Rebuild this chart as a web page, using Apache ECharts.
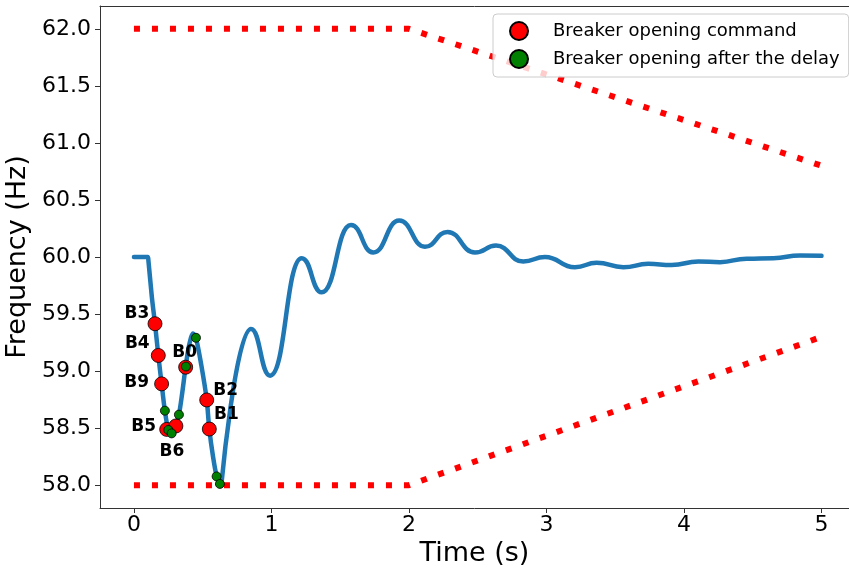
<!DOCTYPE html>
<html>
<head>
<meta charset="utf-8">
<script src="https://cdn.jsdelivr.net/npm/echarts@6/dist/echarts.min.js"></script>
<style>
  html, body { margin: 0; padding: 0; background: #fff; }
  #chart { width: 849px; height: 569px; }
</style>
</head>
<body>
<div id="chart"></div>
<script>
// System frequency after the disturbance: the fast initial swing (s, Hz)
const swingTime = [0, 0.10, 0.105, 0.13, 0.153, 0.177, 0.201, 0.225, 0.25, 0.265, 0.30, 0.327, 0.35, 0.376, 0.40, 0.43, 0.451, 0.49, 0.529, 0.548, 0.575, 0.601, 0.625, 0.635];
const swingHz   = [60.0, 60.0, 59.97, 59.65, 59.415, 59.14, 58.89, 58.65, 58.48, 58.46, 58.52, 58.62, 58.8, 59.04, 59.22, 59.33, 59.29, 59.05, 58.75, 58.49, 58.25, 58.08, 58.01, 58.0];

// ...and the damped recovery, given by its turning points (s, Hz)
const recoveryTime = [0.635, 0.851, 0.99, 1.22, 1.365, 1.578, 1.74, 1.929, 2.116, 2.28, 2.48, 2.633, 2.831, 2.989, 3.207, 3.365, 3.559, 3.74, 3.91, 4.105, 4.262, 4.456, 4.65, 4.844, 5.0];
const recoveryHz   = [58.0, 59.37, 58.96, 59.99, 59.69, 60.28, 60.04, 60.32, 60.09, 60.22, 60.04, 60.10, 59.96, 60.0, 59.91, 59.95, 59.91, 59.94, 59.93, 59.96, 59.955, 59.985, 59.99, 60.013, 60.01];

// Frequency limits (dotted red)
const limitTime  = [0, 2, 5];
const upperLimit = [62.0, 62.0, 60.8];
const lowerLimit = [58.0, 58.0, 59.3];

// Breaker opening commands
const breakerNames = ['B3', 'B4', 'B9', 'B5', 'B6', 'B0', 'B2', 'B1'];
const commandTime  = [0.153, 0.177, 0.201, 0.238, 0.305, 0.376, 0.529, 0.548];
const commandFreq  = [59.415, 59.137, 58.888, 58.489, 58.519, 59.034, 58.747, 58.492];

// Breaker openings after the delay
const delayedTime = [0.225, 0.250, 0.274, 0.327, 0.378, 0.451, 0.601, 0.625];
const delayedFreq = [58.653, 58.484, 58.454, 58.618, 59.040, 59.292, 58.077, 58.011];

// Axis ticks
const xTicks = [0, 1, 2, 3, 4, 5];
const yTicks = [58.0, 58.5, 59.0, 59.5, 60.0, 60.5, 61.0, 61.5, 62.0];

// Label placement around each command marker
const labelOffset = {
  B3: [-18, -10], B4: [-21, -12], B9: [-25, -1], B5: [-23, -3],
  B6: [-4, 26], B0: [-1, -15], B2: [19, -9], B1: [17, -14]
};

const FONT = 'DejaVu Sans';
const zip = (a, b) => a.map((v, i) => [v, b[i]]);
const X_MIN = -0.247, X_MAX = 5.2;

const chart = echarts.init(document.getElementById('chart'), null, { renderer: 'canvas' });

const commandData = commandTime.map((t, i) => ({
  value: [t, commandFreq[i]],
  label: {
    show: true,
    formatter: breakerNames[i],
    position: 'inside',
    offset: labelOffset[breakerNames[i]],
    fontFamily: FONT,
    fontWeight: 'bold',
    fontSize: 17,
    color: '#000'
  }
}));

const dotted = {
  type: 'line',
  showSymbol: false,
  symbol: 'none',
  silent: true,
  lineStyle: { color: '#ff0000', width: 6, type: [6, 12], cap: 'butt' },
  z: 2
};

const freqLine = { color: '#1f77b4', width: 4.5, cap: 'round', join: 'round' };

chart.setOption({
  animation: false,
  backgroundColor: '#fff',
  textStyle: { fontFamily: FONT },
  grid: { left: 100, top: 6, right: 0, bottom: 61, show: false, containLabel: false, outerBoundsMode: 'none' },
  legend: {
    orient: 'vertical',
    left: 493, top: 14,
    padding: [7, 9, 8, 16],
    itemWidth: 18, itemHeight: 18, itemGap: 8,
    borderColor: '#cccccc', borderWidth: 1, borderRadius: 4,
    backgroundColor: 'rgba(255,255,255,0.8)',
    textStyle: { fontFamily: FONT, fontSize: 18, color: '#000', padding: [0, 0, 0, 20] },
    data: ['Breaker opening command', 'Breaker opening after the delay']
  },
  xAxis: [{
    type: 'value',
    min: X_MIN, max: X_MAX,
    name: 'Time (s)',
    nameLocation: 'middle',
    nameGap: 30,
    nameTextStyle: { fontFamily: FONT, fontSize: 27, color: '#000' },
    axisLine: { show: true, onZero: false, lineStyle: { color: '#333', width: 1 } },
    axisTick: { show: true, length: 5, inside: false, customValues: xTicks, lineStyle: { color: '#333' } },
    axisLabel: { customValues: xTicks, fontFamily: FONT, fontSize: 22, color: '#000', margin: 6,
                 formatter: v => String(v) },
    splitLine: { show: false }
  }, {
    // top frame line
    type: 'value',
    position: 'top',
    min: X_MIN, max: X_MAX,
    axisLine: { show: true, onZero: false, lineStyle: { color: '#333', width: 1 } },
    axisTick: { show: false },
    axisLabel: { show: false },
    splitLine: { show: false }
  }],
  yAxis: {
    type: 'value',
    min: 57.8, max: 62.2,
    name: 'Frequency (Hz)',
    nameLocation: 'middle',
    nameGap: 60,
    nameRotate: 90,
    nameTextStyle: { fontFamily: FONT, fontSize: 27, color: '#000' },
    axisLine: { show: true, onZero: false, lineStyle: { color: '#333', width: 1 } },
    axisTick: { show: true, length: 5, inside: false, customValues: yTicks, lineStyle: { color: '#333' } },
    axisLabel: { customValues: yTicks, fontFamily: FONT, fontSize: 22, color: '#000', margin: 9,
                 formatter: v => v.toFixed(1) },
    splitLine: { show: false }
  },
  series: [
    Object.assign({ name: 'upper limit', data: zip(limitTime, upperLimit) }, dotted),
    Object.assign({ name: 'lower limit', data: zip(limitTime, lowerLimit) }, dotted),
    {
      name: 'Frequency',
      type: 'line',
      data: zip(swingTime, swingHz),
      showSymbol: false,
      symbol: 'none',
      smooth: 0.3,
      lineStyle: freqLine,
      z: 3
    },
    {
      name: 'Frequency recovery',
      type: 'line',
      data: zip(recoveryTime, recoveryHz),
      showSymbol: false,
      symbol: 'none',
      smooth: 0.5,
      smoothMonotone: 'x',
      lineStyle: freqLine,
      z: 3
    },
    {
      name: 'Breaker opening command',
      type: 'scatter',
      data: commandData,
      symbol: 'circle',
      symbolSize: 14,
      itemStyle: { color: '#ff0000', borderColor: '#000', borderWidth: 0.8, opacity: 1 },
      z: 4
    },
    {
      name: 'Breaker opening after the delay',
      type: 'scatter',
      data: zip(delayedTime, delayedFreq),
      symbol: 'circle',
      symbolSize: 9,
      itemStyle: { color: '#008000', borderColor: '#000', borderWidth: 0.8, opacity: 1 },
      z: 5
    }
  ]
});
</script>
</body>
</html>
